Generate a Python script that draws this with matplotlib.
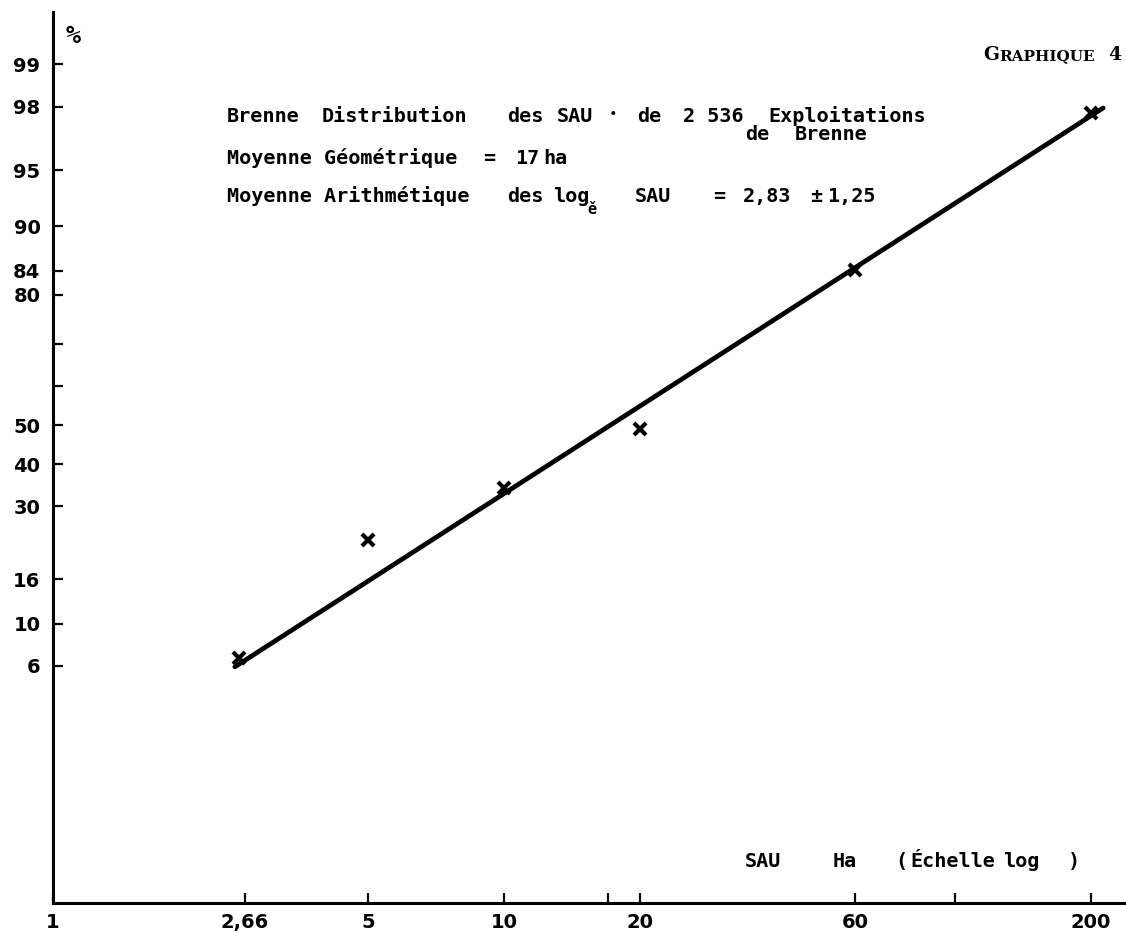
import numpy as np
import matplotlib
matplotlib.use("Agg")
import matplotlib.pyplot as plt
from statistics import NormalDist

W, H, DPI = 1126, 932, 100

# ---- data ----
sau_ha = [2.58, 5, 10, 20, 60, 200]            # SAU (ha), observed points
cum_pct = [6.6, 22.9, 34.2, 49.0, 84.1, 97.8]  # cumulative %
fit_sau = [2.53, 213]                          # fitted lognormal line ends
fit_pct = [5.93, 97.96]

x_ticks = [1, 2.66, 5, 10, 17, 20, 60, 100, 200]
x_ticklabels = ["1", "2,66", "5", "10", "", "20", "60", "", "200"]
y_ticks = [6, 10, 16, 30, 40, 50, 60, 70, 80, 84, 90, 95, 98, 99]
y_ticklabels = ["6", "10", "16", "30", "40", "50", "", "", "80", "84",
                "90", "95", "98", "99"]

# ---- probability (probit) scale ----
_nd = NormalDist()
_ppf = np.vectorize(_nd.inv_cdf, otypes=[float])
_cdf = np.vectorize(_nd.cdf, otypes=[float])


def prob_fwd(p):
    p = np.clip(np.asarray(p, dtype=float) / 100.0, 1e-9, 1 - 1e-9)
    return _ppf(p)


def prob_inv(z):
    return _cdf(np.asarray(z, dtype=float)) * 100.0


fig = plt.figure(figsize=(W / DPI, H / DPI), dpi=DPI)
ax = fig.add_axes([53 / W, 1 - 903 / H, (W - 53) / W, (903 - 12) / H])
ax.set_xscale("log")
ax.set_yscale("function", functions=(prob_fwd, prob_inv))
ax.set_xlim(1, 239.4)
ax.set_ylim(0.102, 99.615)

for s in ("top", "right"):
    ax.spines[s].set_visible(False)
for s in ("left", "bottom"):
    ax.spines[s].set_linewidth(2.2)

ax.set_xticks(x_ticks)
ax.set_xticklabels(x_ticklabels)
ax.set_yticks(y_ticks)
ax.set_yticklabels(y_ticklabels)
ax.xaxis.set_minor_locator(matplotlib.ticker.NullLocator())
ax.yaxis.set_minor_locator(matplotlib.ticker.NullLocator())
ax.tick_params(axis="both", direction="in", length=7, width=1.6,
               labelsize=14)
ax.tick_params(axis="x", pad=7)
ax.tick_params(axis="y", pad=9)
for lab in ax.get_xticklabels() + ax.get_yticklabels():
    lab.set_fontweight("bold")

ax.plot(fit_sau, fit_pct, color="black", lw=3.4, solid_capstyle="round",
        clip_on=False)
ax.plot(sau_ha, cum_pct, ls="none", marker="x", ms=9, mew=3,
        color="black", clip_on=False)

# ---- annotations ----
MONO = dict(family="DejaVu Sans Mono", weight="bold", fontsize=14.5,
            color="black", va="baseline", ha="left")


def T(x, y, s, **kw):
    d = dict(MONO)
    d.update(kw)
    fig.text(x / W, 1 - y / H, s, **d)


# line 1
T(227, 122, "Brenne")
T(322, 122, "Distribution")
T(507, 122, "des")
T(557, 122, "SAU")
T(610, 117, "•", fontsize=8)
T(637, 122, "de")
T(683, 122, "2 536")
T(768, 122, "Exploitations")
T(745, 140, "de")
T(795, 140, "Brenne")
# line 2
T(227, 164, "Moyenne Géométrique")
T(483, 164, "=")
T(515, 164, "17")
T(543, 164, "ha")
# line 3
T(227, 202, "Moyenne Arithmétique")
T(507, 202, "des")
T(553, 202, "log")
T(587, 214, "ě", fontsize=11)
T(635, 202, "SAU")
T(713, 202, "=")
T(743, 202, "2,83")
T(810, 202, "±")
T(827, 202, "1,25")

# axis titles
T(66, 43, "%", fontsize=18)
T(745, 867, "SAU")
T(833, 867, "Ha")
T(895, 867, "(")
T(910, 867, "Échelle")
T(1003, 867, "log")
T(1068, 867, ")")

# "GRAPHIQUE 4" in small caps
SERIF = dict(family="DejaVu Serif", weight="bold", color="black",
             va="baseline", ha="left")
fig.text(983 / W, 1 - 60 / H, "G", fontsize=13.5, **SERIF)
fig.text(999 / W, 1 - 60 / H, "RAPHIQUE", fontsize=11, **SERIF)
fig.text(1108 / W, 1 - 60 / H, "4", fontsize=13.5, **SERIF)

fig.savefig("out.png", dpi=DPI)
